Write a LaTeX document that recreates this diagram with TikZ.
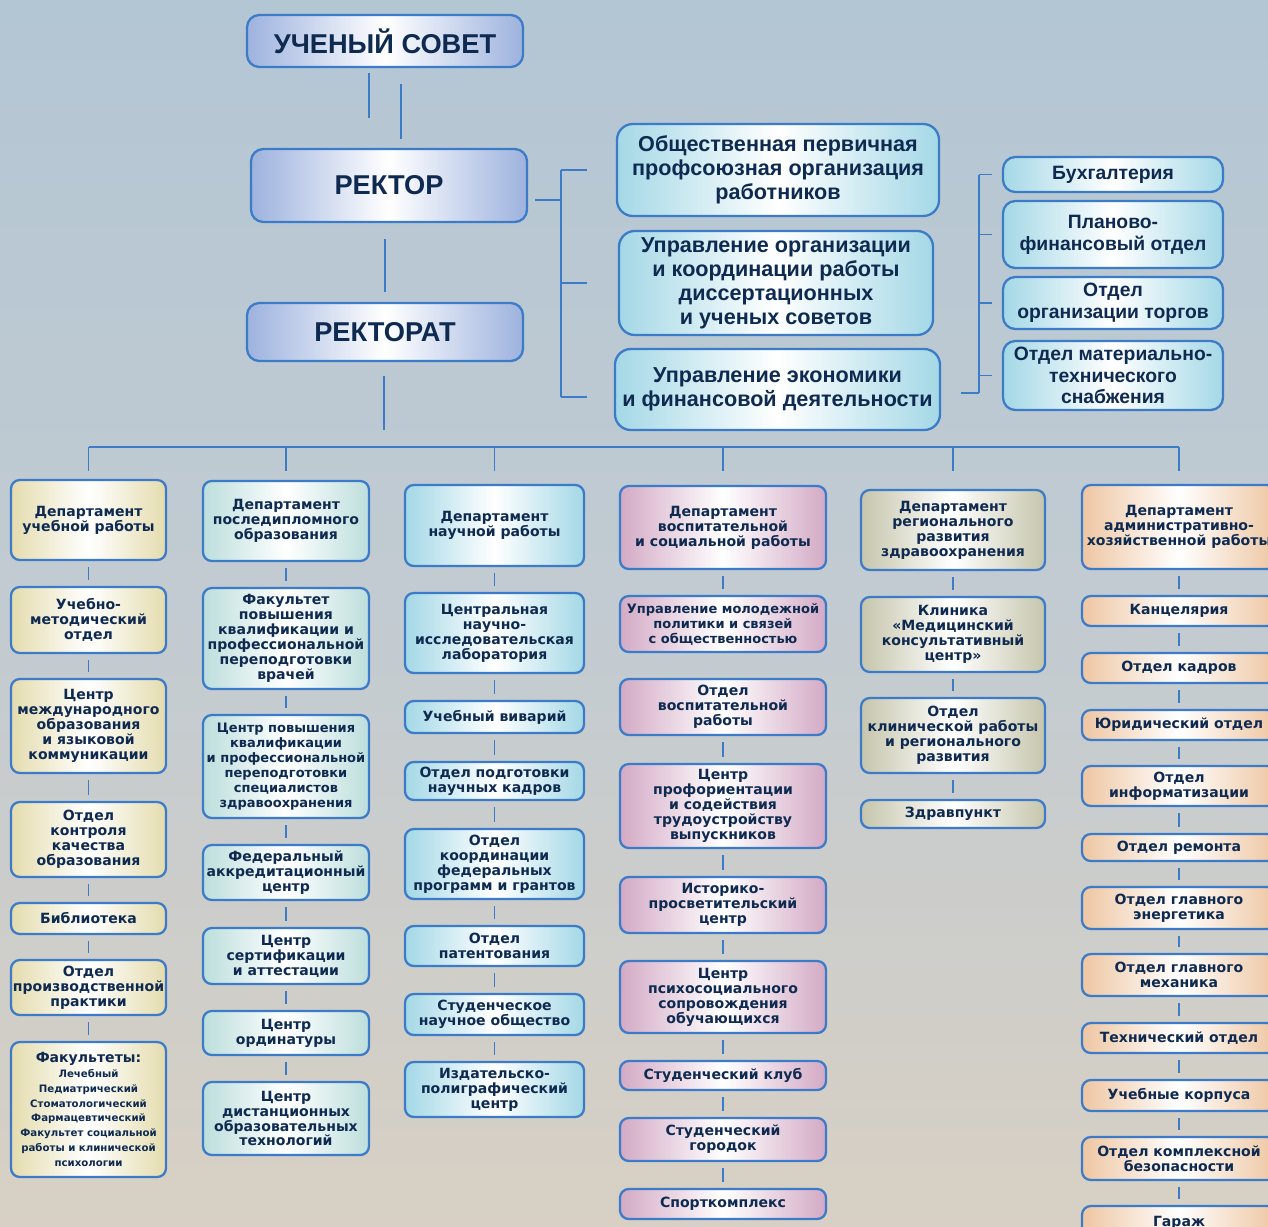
\documentclass[tikz,border=0pt]{standalone}
\usepackage{fontspec}
\setmainfont{Liberation Sans}
\newfontfamily\boxfont{DejaVu Sans}

\definecolor{frame}{HTML}{3B7BC8}
\definecolor{ink}{HTML}{0F2A50}
\definecolor{topfill}{HTML}{9DB2DE}
\definecolor{cyanfill}{HTML}{A4D8E6}
\definecolor{sandfill}{HTML}{E4DCAE}
\definecolor{tealfill}{HTML}{BCDEDC}
\definecolor{pinkfill}{HTML}{D3AAC5}
\definecolor{olivefill}{HTML}{C6C5AC}
\definecolor{peachfill}{HTML}{EEC6A2}
\definecolor{bgtop}{HTML}{B3C6D4}
\definecolor{bgmid}{HTML}{C2CBD1}
\definecolor{bgbot}{HTML}{D8D0C4}

\newcommand{\titlefont}{\fontsize{15.5}{17}\selectfont\bfseries}
\newcommand{\unitfont}{\fontsize{12.3}{13.6}\selectfont\bfseries}
\newcommand{\officefont}{\fontsize{11}{12.4}\selectfont\bfseries}
\newcommand{\colfont}{\boxfont\fontsize{8}{8.5}\selectfont\bfseries}
\newcommand{\narrowfont}{\boxfont\fontsize{7.4}{8.5}\selectfont\bfseries}
\newcommand{\facfont}{\boxfont\fontsize{5.8}{8.4}\selectfont\bfseries}

\begin{document}
\begin{tikzpicture}[x=0.02cm, y=-0.02cm,
  box/.style={draw=frame, line width=1.3pt, rounded corners=5pt, text=ink, align=center, inner sep=1pt,
    left color=#1, right color=#1, middle color=white},
  ht/.style={minimum height=#1*0.02cm},
  head/.style={box=topfill, rounded corners=7pt, minimum width=276*0.02cm, font=\titlefont},
  unit/.style={box=cyanfill, rounded corners=9pt, font=\unitfont},
  office/.style={box=cyanfill, rounded corners=7pt, minimum width=220*0.02cm, font=\officefont},
  col1/.style={box=sandfill, minimum width=155*0.02cm, font=\colfont},
  col2/.style={box=tealfill, minimum width=166*0.02cm, font=\colfont},
  col3/.style={box=cyanfill, minimum width=179*0.02cm, font=\colfont},
  col4/.style={box=pinkfill, minimum width=206*0.02cm, font=\colfont},
  col5/.style={box=olivefill, minimum width=184*0.02cm, font=\colfont},
  col6/.style={box=peachfill, minimum width=194*0.02cm, font=\colfont},
  link/.style={draw=frame, line width=1.1pt},
  gap/.style={shorten <=0.12cm, shorten >=0.12cm}
]
\useasboundingbox (0,0) rectangle (1268,1227);
\clip (0,0) rectangle (1268,1227);
\shade[top color=bgtop, bottom color=bgbot, middle color=bgmid] (0,0) rectangle (1268,1227);

% top of the chart
\node[head, ht=52] (sovet) at (385,41) {УЧЕНЫЙ СОВЕТ};
\node[head, ht=73] (rektor) at (389,185.5) {РЕКТОР};
\node[head, ht=58] (rektorat) at (385,332) {РЕКТОРАТ};

\node[unit, minimum width=322*0.02cm, ht=92] (union) at (778,170) {Общественная первичная\\профсоюзная организация\\работников};
\node[unit, minimum width=314*0.02cm, ht=104] (dissov) at (776,283) {Управление организации\\и координации работы\\диссертационных\\и ученых советов};
\node[unit, minimum width=325*0.02cm, ht=81] (econ) at (777.5,389.5) {Управление экономики\\и финансовой деятельности};

\node[office, ht=35] (buh) at (1113,174.5) {Бухгалтерия};
\node[office, ht=67] (plan) at (1113,234.5) {Планово-\\финансовый отдел};
\node[office, ht=52] (torg) at (1113,303) {Отдел\\организации торгов};
\node[office, ht=69] (snab) at (1113,375.5) {Отдел материально-\\технического\\снабжения};

\coordinate (up1) at (369,73);
\coordinate (up2) at (401,139);
\draw[link] (up1) -- ++(0,45);
\draw[link] (up2) -- ++(0,-55);
\draw[link, shorten <=0.32cm, shorten >=0.2cm] (rektor.south -| rektorat.north) -- (rektorat.north);
\coordinate (stem) at (384,430);
\draw[link, shorten <=0.28cm] (stem |- rektorat.south) -- (stem);

% rector bracket
\coordinate (rb) at (561,200);
\draw[link] (rb) -- ++(-26,0);
\draw[link] (rb |- union) -- (rb |- 0,397);
\draw[link] (rb |- union) -- ++(26,0);
\draw[link] (rb |- dissov) -- ++(26,0);
\draw[link] (rb |- 0,397) -- ++(26,0);

% economics bracket
\coordinate (eb) at (979,393);
\draw[link] (eb) -- ++(-18,0);
\draw[link] (eb) -- (eb |- buh);
\foreach \n in {buh,plan,torg,snab}
  \draw[link] (eb |- \n) -- ++(13,0);

% departments
\node[col1, ht=80] (a1) at (88.5,520) {Департамент\\учебной работы};
\node[col1, ht=66] (a2) at (88.5,620) {Учебно-\\методический\\отдел};
\node[col1, ht=94] (a3) at (88.5,726) {Центр\\международного\\образования\\и языковой\\коммуникации};
\node[col1, ht=75] (a4) at (88.5,839.5) {Отдел\\контроля\\качества\\образования};
\node[col1, ht=31] (a5) at (88.5,918.5) {Библиотека};
\node[col1, ht=55] (a6) at (88.5,987.5) {Отдел\\производственной\\практики};
\node[col1, ht=135, font=\facfont] (a7) at (88.5,1109.5) {{\colfont Факультеты:}\\Лечебный\\Педиатрический\\Стоматологический\\Фармацевтический\\Факультет социальной\\работы и клинической\\психологии};

\node[col2, ht=80] (b1) at (286,521) {Департамент\\последипломного\\образования};
\node[col2, ht=101] (b2) at (286,638.5) {Факультет\\повышения\\квалификации и\\профессиональной\\переподготовки\\врачей};
\node[col2, ht=103, font=\narrowfont] (b3) at (286,766.5) {Центр повышения\\квалификации\\и профессиональной\\переподготовки\\специалистов\\здравоохранения};
\node[col2, ht=55] (b4) at (286,872.5) {Федеральный\\аккредитационный\\центр};
\node[col2, ht=56] (b5) at (286,956) {Центр\\сертификации\\и аттестации};
\node[col2, ht=44] (b6) at (286,1033) {Центр\\ординатуры};
\node[col2, ht=73] (b7) at (286,1118.5) {Центр\\дистанционных\\образовательных\\технологий};

\node[col3, ht=81] (c1) at (494.5,525.5) {Департамент\\научной работы};
\node[col3, ht=80] (c2) at (494.5,633) {Центральная\\научно-\\исследовательская\\лаборатория};
\node[col3, ht=32] (c3) at (494.5,717) {Учебный виварий};
\node[col3, ht=38] (c4) at (494.5,781) {Отдел подготовки\\научных кадров};
\node[col3, ht=70] (c5) at (494.5,864) {Отдел\\координации\\федеральных\\программ и грантов};
\node[col3, ht=40] (c6) at (494.5,946) {Отдел\\патентования};
\node[col3, ht=41] (c7) at (494.5,1014.5) {Студенческое\\научное общество};
\node[col3, ht=55] (c8) at (494.5,1089.5) {Издательско-\\полиграфический\\центр};

\node[col4, ht=83] (e1) at (723,527.5) {Департамент\\воспитательной\\и социальной работы};
\node[col4, ht=56, font=\narrowfont] (e2) at (723,624) {Управление молодежной\\политики и связей\\с общественностью};
\node[col4, ht=56] (e3) at (723,707) {Отдел\\воспитательной\\работы};
\node[col4, ht=84] (e4) at (723,806) {Центр\\профориентации\\и содействия\\трудоустройству\\выпускников};
\node[col4, ht=56] (e5) at (723,905) {Историко-\\просветительский\\центр};
\node[col4, ht=72] (e6) at (723,997) {Центр\\психосоциального\\сопровождения\\обучающихся};
\node[col4, ht=29] (e7) at (723,1075.5) {Студенческий клуб};
\node[col4, ht=43] (e8) at (723,1139.5) {Студенческий\\городок};
\node[col4, ht=30] (e9) at (723,1204) {Спорткомплекс};

\node[col5, ht=80] (f1) at (953,530) {Департамент\\регионального\\развития\\здравоохранения};
\node[col5, ht=75] (f2) at (953,634.5) {Клиника\\«Медицинский\\консультативный\\центр»};
\node[col5, ht=75] (f3) at (953,735.5) {Отдел\\клинической работы\\и регионального\\развития};
\node[col5, ht=28] (f4) at (953,814) {Здравпункт};

\node[col6, ht=84] (g1) at (1179,527) {Департамент\\административно-\\хозяйственной работы};
\node[col6, ht=30] (g2) at (1179,611) {Канцелярия};
\node[col6, ht=30] (g3) at (1179,668) {Отдел кадров};
\node[col6, ht=30] (g4) at (1179,725) {Юридический отдел};
\node[col6, ht=40] (g5) at (1179,786) {Отдел\\информатизации};
\node[col6, ht=27] (g6) at (1179,847.5) {Отдел ремонта};
\node[col6, ht=42] (g7) at (1179,908) {Отдел главного\\энергетика};
\node[col6, ht=42] (g8) at (1179,975) {Отдел главного\\механика};
\node[col6, ht=30] (g9) at (1179,1038) {Технический отдел};
\node[col6, ht=31] (g10) at (1179,1095.5) {Учебные корпуса};
\node[col6, ht=43] (g11) at (1179,1158.5) {Отдел комплексной\\безопасности};
\node[col6, ht=34] (g12) at (1179,1223) {Гараж};

% bus to the departments
\coordinate (bus) at (0,447);
\coordinate (busend) at (0,471);
\draw[link] (a1.north |- bus) -- (g1.north |- bus);
\foreach \d in {a1,b1,c1,e1,f1,g1}
  \draw[link] (\d.north |- bus) -- (\d.north |- busend);

% links inside the columns
\foreach \u/\v in {a1/a2,a2/a3,a3/a4,a4/a5,a5/a6,a6/a7,
                   b1/b2,b2/b3,b3/b4,b4/b5,b5/b6,b6/b7,
                   c1/c2,c2/c3,c3/c4,c4/c5,c5/c6,c6/c7,c7/c8,
                   e1/e2,e3/e4,e4/e5,e5/e6,e6/e7,e7/e8,e8/e9,
                   f1/f2,f2/f3,f3/f4,
                   g1/g2,g2/g3,g3/g4,g4/g5,g5/g6,g6/g7,g7/g8,g8/g9,g9/g10,g10/g11,g11/g12}
  \draw[link, gap] (\u) -- (\v);
\end{tikzpicture}
\end{document}
